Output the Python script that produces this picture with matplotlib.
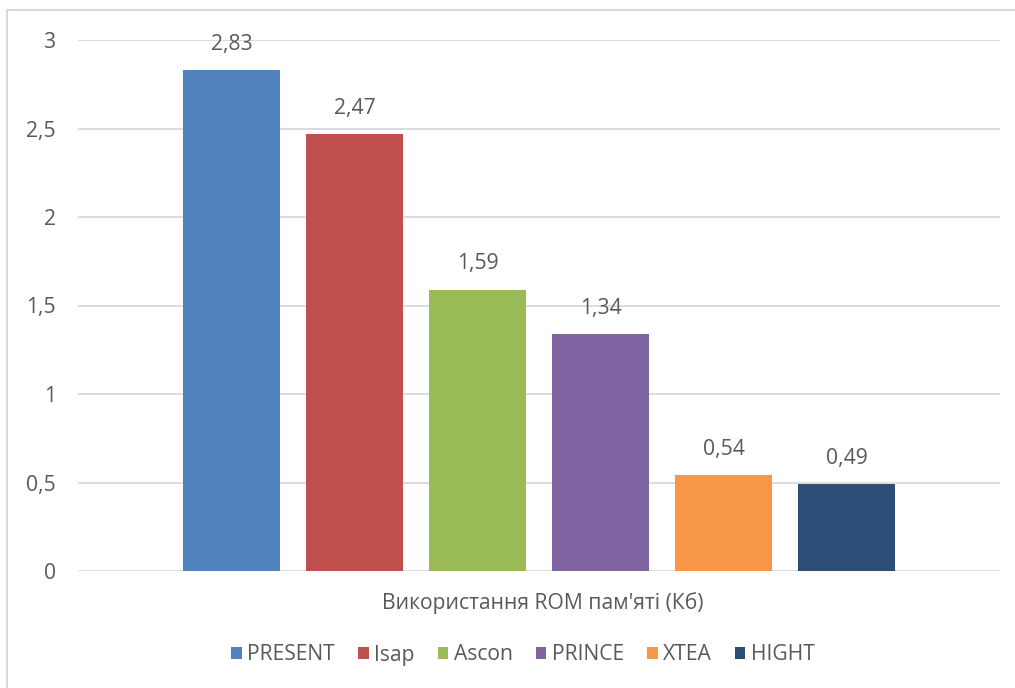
import matplotlib.pyplot as plt
from matplotlib.patches import Rectangle

plt.rcParams['font.family'] = ['Open Sans', 'DejaVu Sans']

names = ['PRESENT', 'Isap', 'Ascon', 'PRINCE', 'XTEA', 'HIGHT']
values = [2.83, 2.47, 1.59, 1.34, 0.54, 0.49]
colors = ['#4F81BD', '#C0504D', '#9BBB59', '#8064A2', '#F79646', '#2C4D75']
yticks = [0, 0.5, 1, 1.5, 2, 2.5, 3]
xlabel = "Використання ROM пам'яті (Кб)"

txt = '#595959'
fs = 15.2
W, H = 1015, 688
fig = plt.figure(figsize=(W / 100, H / 100), dpi=100)

# рамка діаграми (видно лише ліву та верхню сторону)
fig.patches.append(Rectangle((7 / W, -0.1), 1.2, 1 - 10 / H + 0.1, transform=fig.transFigure,
                             fill=False, edgecolor='#D9D9D9', linewidth=1.5))

ax = fig.add_axes([78 / W, 1 - 571 / H, (1000 - 78) / W, (571 - 40) / H])
for i, (n, v, c) in enumerate(zip(names, values, colors)):
    ax.bar(i, v, width=0.79, color=c, label=n, zorder=3)
    ax.annotate(f'{v:.2f}'.replace('.', ','), (i, v), xytext=(0, 18.5), textcoords='offset points',
                ha='center', va='center', fontsize=fs, color=txt)

ax.set_xlim(-1.248, 6.248)
ax.set_ylim(0, 3)
ax.set_yticks(yticks)
ax.set_yticklabels([f'{t:g}'.replace('.', ',') for t in yticks])
ax.tick_params(axis='y', length=0, pad=16, labelsize=fs, labelcolor=txt)
ax.set_xticks([])
ax.grid(axis='y', color='#D9D9D9', linewidth=1.3, zorder=0)
for s in ax.spines.values():
    s.set_visible(False)

fig.text(543 / W, 1 - 603 / H, xlabel, ha='center', va='center', fontsize=fs, color=txt)
fig.legend(loc='center', bbox_to_anchor=(523 / W, 1 - 655 / H), ncol=6, frameon=False,
           fontsize=fs, labelcolor=txt, handlelength=0.5, handleheight=0.5,
           handletextpad=0.25, columnspacing=1.1)

fig.savefig('out.png', dpi=100)
